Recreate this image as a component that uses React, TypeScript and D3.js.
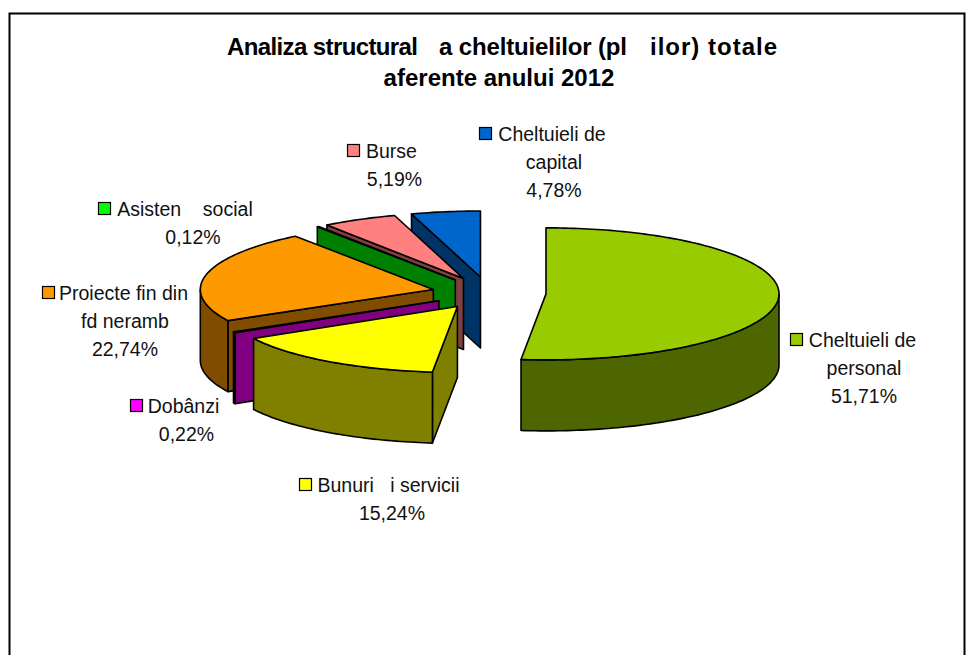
import React from "react";
import * as d3 from "d3";

const categories = ["Cheltuieli de personal", "Bunuri și servicii", "Dobânzi", "Proiecte fin din fd neramb", "Asistență socială", "Burse", "Cheltuieli de capital"];
const shares = [51.71, 15.24, 0.22, 22.74, 0.12, 5.19, 4.78];
const topColors = ["#99CC00", "#FFFF00", "#FF00FF", "#FF9900", "#00FF00", "#FF8080", "#0066CC"];
const wallColors = ["#4D6600", "#808000", "#800080", "#804D00", "#008000", "#804040", "#003366"];
const labelLines = [
  ["Cheltuieli de", "personal", "51,71%"],
  ["Bunuri   i servicii", "15,24%"],
  ["Dobânzi", "0,22%"],
  ["Proiecte fin din", "fd neramb", "22,74%"],
  ["Asisten    social", "0,12%"],
  ["Burse", "5,19%"],
  ["Cheltuieli de", "capital", "4,78%"],
];
// key box left edge, first line baseline, centre of first line, centre of the other lines
const labelPos = [
  { kx: 790, y: 347, c0: 862.5, cx: 864 },
  { kx: 299, y: 492, c0: 388.5, cx: 392 },
  { kx: 130, y: 413, c0: 183.5, cx: 186.5 },
  { kx: 42, y: 300, c0: 123.5, cx: 125 },
  { kx: 98, y: 216, c0: 185, cx: 193 },
  { kx: 347, y: 158, c0: 391.5, cx: 394.5 },
  { kx: 479, y: 141, c0: 552, cx: 554 },
];
// the first title line has gaps where letters were lost; each run keeps its own span
const titleRuns = [
  { t: "Analiza structural", x0: 227, x1: 418 },
  { t: "a cheltuielilor (pl", x0: 439, x1: 627 },
  { t: "ilor) totale", x0: 650, x1: 777 },
];
const titleSecond = "aferente anului 2012";

const W = 974, H = 655;
const cx = 489, cy = 293, rx = 233, ry = 66, depth = 71, explode = 0.245;
const FONT = "'Liberation Sans', Arial, sans-serif";

const pie = d3.pie<number>().sort(null).value((d) => d);
const arcs = pie(shares);

function pathOf(pts: [number, number][], close = true) {
  const p = d3.path();
  pts.forEach((q, i) => (i ? p.lineTo(q[0], q[1]) : p.moveTo(q[0], q[1])));
  if (close) p.closePath();
  return p.toString();
}
function rim(ax: number, ay: number, a0: number, a1: number, dy = 0) {
  const n = Math.max(2, Math.ceil(Math.abs(a1 - a0) / 0.02));
  return d3.range(n + 1).map((i): [number, number] => {
    const a = a0 + ((a1 - a0) * i) / n;
    return [ax + rx * Math.sin(a), ay - ry * Math.cos(a) + dy];
  });
}

const order = [6, 5, 4, 3, 2, 1, 0];
const PI = Math.PI;

export default function App() {
  const sx = d3.scaleLinear().domain([-1, 1]).range([cx - rx, cx + rx]);
  const sy = d3.scaleLinear().domain([-1, 1]).range([cy - ry, cy + ry]);
  return (
    <svg width={W} height={H} style={{ position: "absolute", left: 0, top: 0, background: "#fff" }} fontFamily={FONT}>
      <rect x={9.5} y={13.5} width={955} height={700} fill="#fff" stroke="#000" strokeWidth={2} />
      {titleRuns.map((r) => (
        <text key={r.t} x={r.x0} y={55} fontSize={24} fontWeight="bold" textLength={r.x1 - r.x0} lengthAdjust="spacing">{r.t}</text>
      ))}
      <text x={499} y={86} textAnchor="middle" fontSize={24} fontWeight="bold">{titleSecond}</text>
      {order.map((i) => {
        const d = arcs[i];
        const mid = (d.startAngle + d.endAngle) / 2;
        const ax = sx(explode * Math.sin(mid));
        const ay = sy(-explode * Math.cos(mid));
        const top = [[ax, ay] as [number, number], ...rim(ax, ay, d.startAngle, d.endAngle)];
        const common = { stroke: "#000", strokeWidth: 1.6, strokeLinejoin: "round" as const };
        const f0 = Math.max(d.startAngle, PI / 2);
        const f1 = Math.min(d.endAngle, (3 * PI) / 2);
        const outer = f1 > f0 ? [...rim(ax, ay, f0, f1), ...rim(ax, ay, f1, f0, depth)] : null;
        const s = d.startAngle;
        const rp: [number, number] = [ax + rx * Math.sin(s), ay - ry * Math.cos(s)];
        const face = Math.sin(s) < -1e-6
          ? ([[ax, ay], rp, [rp[0], rp[1] + depth], [ax, ay + depth]] as [number, number][])
          : null;
        return (
          <g key={categories[i]}>
            {face && <path d={pathOf(face)} fill={wallColors[i]} {...common} />}
            {outer && <path d={pathOf(outer)} fill={wallColors[i]} {...common} />}
            <path d={pathOf(top)} fill={topColors[i]} {...common} />
          </g>
        );
      })}
      {labelLines.map((lines, i) => {
        const pos = labelPos[i];
        return (
          <g key={i} fontSize={19.5} fill="#111">
            <rect x={pos.kx + 0.5} y={pos.y - 13.5} width={12} height={12} fill={topColors[i]} stroke="#000" strokeWidth={1.2} />
            {lines.map((t, j) => (
              <text key={j} x={j ? pos.cx : pos.c0} y={pos.y + j * 28} textAnchor="middle" style={{ whiteSpace: "pre" }}>{t}</text>
            ))}
          </g>
        );
      })}
    </svg>
  );
}
